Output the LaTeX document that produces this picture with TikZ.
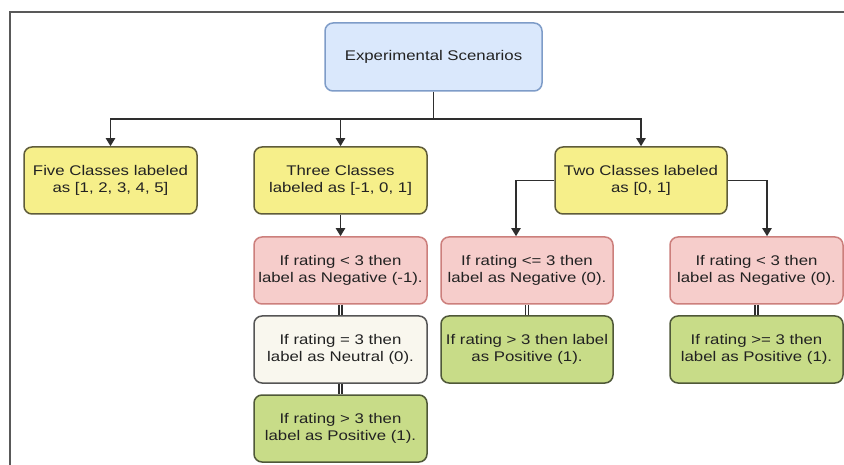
\documentclass[tikz,border=0pt]{standalone}
\usepackage{fontspec}
\setmainfont{Liberation Sans}[FakeStretch=1.2]
\usetikzlibrary{arrows.meta,calc}
\definecolor{txt}{HTML}{222222}
\definecolor{ln}{HTML}{2E2E2E}
\definecolor{blueF}{HTML}{DAE8FC}
\definecolor{blueD}{HTML}{7E9CC8}
\definecolor{yelF}{HTML}{F6EF8A}
\definecolor{yelD}{HTML}{5F5C3A}
\definecolor{redF}{HTML}{F6CDCB}
\definecolor{redD}{HTML}{CC7F7C}
\definecolor{neuF}{HTML}{F9F7EE}
\definecolor{neuD}{HTML}{555555}
\definecolor{grnF}{HTML}{C8DC88}
\definecolor{grnD}{HTML}{4F5838}
\tikzset{
  box/.style={rounded corners=8pt, line width=1.5pt, align=center, text=txt,
    font=\fontsize{14}{17.7}\selectfont, inner sep=0pt, minimum height=67pt},
  bluebox/.style={box, fill=blueF, draw=blueD},
  yelbox/.style={box, fill=yelF, draw=yelD, minimum width=173pt},
  redbox/.style={box, fill=redF, draw=redD, minimum width=173pt},
  neubox/.style={box, fill=neuF, draw=neuD, minimum width=173pt},
  grnbox/.style={box, fill=grnF, draw=grnD, minimum width=173pt},
  conn/.style={draw=ln, line width=1.8pt},
  arr/.style={conn, -{Triangle[width=9pt,length=8pt]}},
  dbl/.style={draw=ln, line width=1.3pt, double=white, double distance=1.8pt},
  frame/.style={draw=black!65, line width=2pt}
}
\begin{document}
\begin{tikzpicture}[x=1pt,y=-1pt]
\useasboundingbox (0,0) rectangle (844,465);
\fill[white] (0,0) rectangle (844,465);
\coordinate (ftl) at (9.5,12);
\coordinate (ftr) at (846,12);
\coordinate (fbl) at (9.5,467);
\draw[frame] (ftr) -- (ftl) -- (fbl);

\node[bluebox, minimum width=217pt, minimum height=68pt] (top) at (433.5,57) {Experimental Scenarios};
\node[yelbox] (five) at (110.5,180.5) {Five Classes labeled\\as [1, 2, 3, 4, 5]};
\node[yelbox] (three) at (340.5,180.5) {Three Classes\\labeled as [-1, 0, 1]};
\node[yelbox, minimum width=172pt] (two) at (641,180.5) {Two Classes labeled\\as [0, 1]};

\node[redbox] (r1) at (340.5,270.5) {If rating < 3 then\\label as Negative (-1).};
\node[neubox] (n1) at (340.5,349.5) {If rating = 3 then\\label as Neutral (0).};
\node[grnbox] (g1) at (340.5,428.5) {If rating > 3 then\\label as Positive (1).};

\node[redbox, minimum width=172pt] (r2) at (527,270.5) {If rating <= 3 then\\label as Negative (0).};
\node[grnbox, minimum width=172pt] (g2) at (527,349.5) {If rating > 3 then label\\as Positive (1).};

\node[redbox] (r3) at (756.5,270.5) {If rating < 3 then\\label as Negative (0).};
\node[grnbox] (g3) at (756.5,349.5) {If rating >= 3 then\\label as Positive (1).};

\coordinate (j) at (433.5,119);
\draw[conn] (top.south) -- (j);
\draw[arr] (j) -| (five.north);
\draw[arr] (j) -| (three.north);
\draw[arr] (j) -| (two.north);
\draw[arr] (three.south) -- (r1.north);
\draw[arr] (two.west) -| ($(r2.north)+(-11,0)$);
\draw[arr] (two.east) -| ($(r3.north)+(10.5,0)$);

\draw[dbl] (r1.south) -- (n1.north);
\draw[dbl] (n1.south) -- (g1.north);
\draw[dbl] (r2.south) -- (g2.north);
\draw[dbl] (r3.south) -- (g3.north);
\end{tikzpicture}
\end{document}
